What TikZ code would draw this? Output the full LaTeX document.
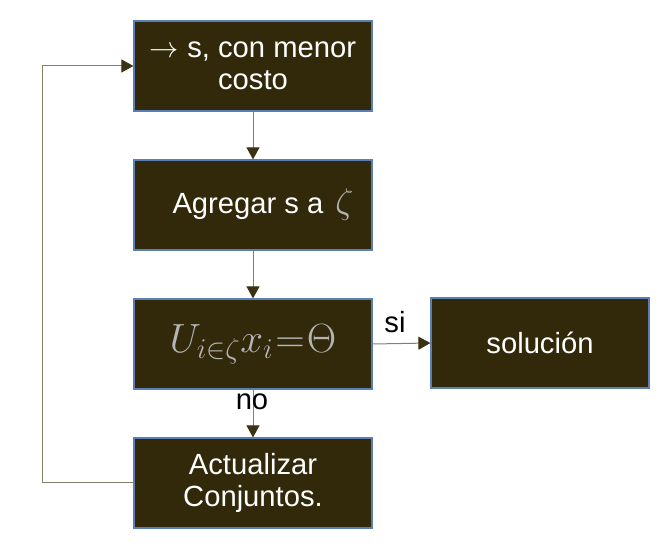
\RequirePackage{fix-cm}
\documentclass[tikz,border=0pt]{standalone}
\usepackage{fontspec}
\setmainfont{Liberation Sans}
\usetikzlibrary{arrows.meta}
\definecolor{boxfill}{HTML}{32290B}
\definecolor{boxline}{HTML}{5A7FB5}
\definecolor{linkline}{HTML}{857F6C}
\definecolor{tipdark}{HTML}{3A3212}
\definecolor{mathgray}{HTML}{B4B4B4}
\tikzset{
    stepbox/.style={draw=boxline, line width=1.2bp, fill=boxfill, text=white,
        minimum width=238bp, minimum height=90bp, align=center,
        font=\fontsize{29.3}{32}\selectfont},
    link/.style={draw=linkline, line width=1bp,
        -{Triangle[color=tipdark, length=12bp, width=13bp]}},
    lbl/.style={font=\fontsize{29.3}{32}\selectfont}
}
\begin{document}
\begin{tikzpicture}[x=1bp, y=1bp]
    \useasboundingbox (0,0) rectangle (671,555);

    % Boxes
    \node[stepbox] (menor) at (253,489) {$\rightarrow$\ s, con menor\\costo\hspace{10bp}};
    \node[stepbox] (agregar) at (253,350) {\hspace*{20bp}Agregar s a\hspace{12bp}\textcolor{mathgray}{\fontsize{36}{36}\selectfont$\zeta$}};
    \node[stepbox] (union) at (253,211) {\textcolor{mathgray}{\fontsize{41}{41}\selectfont$U_{i\in\zeta}x_i\mkern1mu{=}\mkern1mu\Theta$}};
    \node[stepbox] (actualizar) at (253,72) {Actualizar\\Conjuntos.};
    \node[stepbox, minimum width=218bp] (solucion) at (540,212) {solución};

    % Connectors
    \draw[link] (menor) -- (agregar);
    \draw[link] (agregar) -- (union);
    \draw[link] (union) -- (actualizar);
    \draw[link] (union.east) -- (solucion.west);
    \draw[link] (actualizar.west) -- ++(-91,0) |- (menor.west);

    % Labels
    \node[lbl] (si) at (395,233) {si};
    \node[lbl] (no) at (252,153) {no};
\end{tikzpicture}
\end{document}
